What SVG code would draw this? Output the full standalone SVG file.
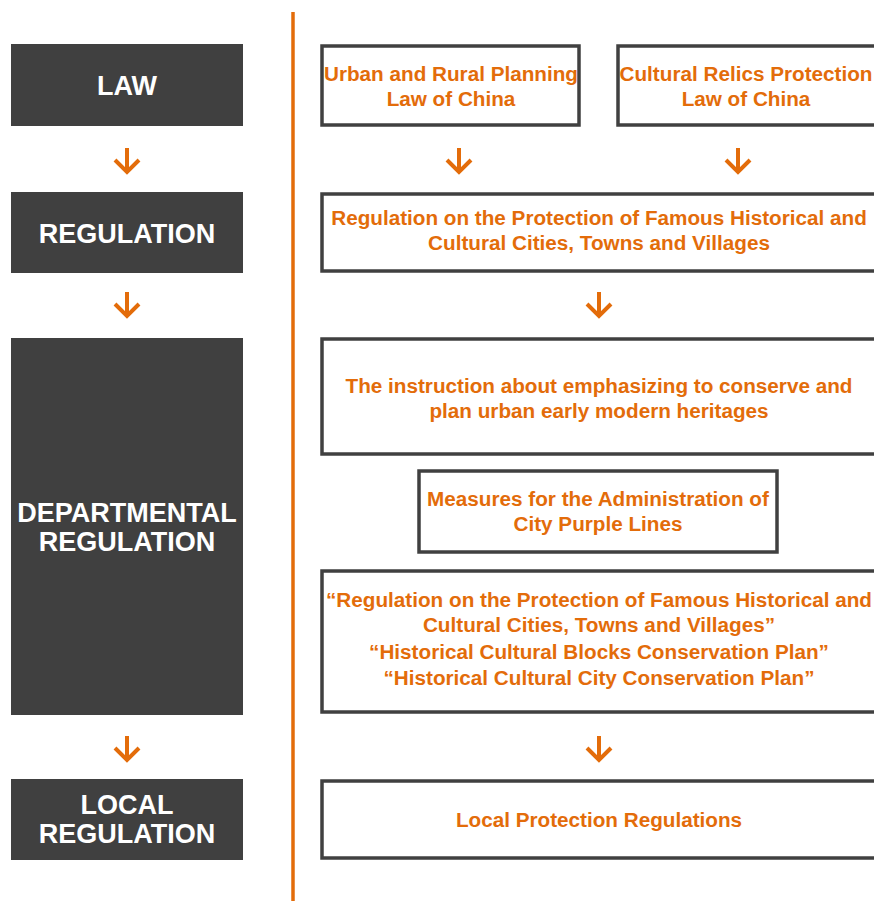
<svg xmlns="http://www.w3.org/2000/svg" width="874" height="901" viewBox="0 0 874 901">
<defs>
<style>
.dark{fill:#404040;}
.box{fill:#ffffff;stroke:#404040;stroke-width:3.5;}
.lbl{font-family:"Liberation Sans",Arial,sans-serif;font-weight:bold;font-size:27px;fill:#ffffff;text-anchor:middle;}
.txt{font-family:"Liberation Sans",Arial,sans-serif;font-weight:bold;font-size:20.7px;fill:#E36C0A;text-anchor:middle;}
.arr{fill:none;stroke:#E36C0A;stroke-width:4;}
</style>
<g id="arrow"><path class="arr" d="M0,-13 V11 M-12,-1 L0,11 L12,-1"/></g>
</defs>
<rect width="874" height="901" fill="#ffffff"/>
<line x1="293" y1="12" x2="293" y2="901" stroke="#E36C0A" stroke-width="3.5"/>
<g id="n-law"><rect class="dark" x="11" y="44" width="232" height="82"/><text class="lbl" x="127" y="95">LAW</text></g>
<g id="n-regulation"><rect class="dark" x="11" y="192" width="232" height="81"/><text class="lbl" x="127" y="243">REGULATION</text></g>
<g id="n-dept"><rect class="dark" x="11" y="338" width="232" height="377"/><text class="lbl" x="127" y="522">DEPARTMENTAL</text><text class="lbl" x="127" y="551">REGULATION</text></g>
<g id="n-local"><rect class="dark" x="11" y="779" width="232" height="81"/><text class="lbl" x="127" y="814">LOCAL</text><text class="lbl" x="127" y="843">REGULATION</text></g>
<g id="n-urban"><rect class="box" x="322" y="46" width="257" height="79"/><text class="txt" x="451" y="81">Urban and Rural Planning</text><text class="txt" x="451" y="106">Law of China</text></g>
<g id="n-cultural"><rect class="box" x="618" y="46" width="260" height="79"/><text class="txt" x="746" y="81">Cultural Relics Protection</text><text class="txt" x="746" y="106">Law of China</text></g>
<g id="n-reg"><rect class="box" x="322" y="194" width="556" height="77"/><text class="txt" x="599" y="225">Regulation on the Protection of Famous Historical and</text><text class="txt" x="599" y="250">Cultural Cities, Towns and Villages</text></g>
<g id="n-instr"><rect class="box" x="322" y="339" width="556" height="115"/><text class="txt" x="599" y="393">The instruction about emphasizing to conserve and</text><text class="txt" x="599" y="418">plan urban early modern heritages</text></g>
<g id="n-measures"><rect class="box" x="419" y="471" width="358" height="81"/><text class="txt" x="598" y="506">Measures for the Administration of</text><text class="txt" x="598" y="531">City Purple Lines</text></g>
<g id="n-quotes"><rect class="box" x="322" y="571" width="556" height="141"/><text class="txt" x="599" y="607">“Regulation on the Protection of Famous Historical and</text><text class="txt" x="599" y="632">Cultural Cities, Towns and Villages”</text><text class="txt" x="599" y="659">“Historical Cultural Blocks Conservation Plan”</text><text class="txt" x="599" y="685">“Historical Cultural City Conservation Plan”</text></g>
<g id="n-localreg"><rect class="box" x="322" y="781" width="556" height="77"/><text class="txt" x="599" y="827">Local Protection Regulations</text></g>
<g id="connectors">
<use href="#arrow" x="127" y="161"/>
<use href="#arrow" x="127" y="305"/>
<use href="#arrow" x="127" y="749"/>
<use href="#arrow" x="459" y="161"/>
<use href="#arrow" x="738" y="161"/>
<use href="#arrow" x="599" y="305"/>
<use href="#arrow" x="599" y="749"/>
</g>
</svg>
